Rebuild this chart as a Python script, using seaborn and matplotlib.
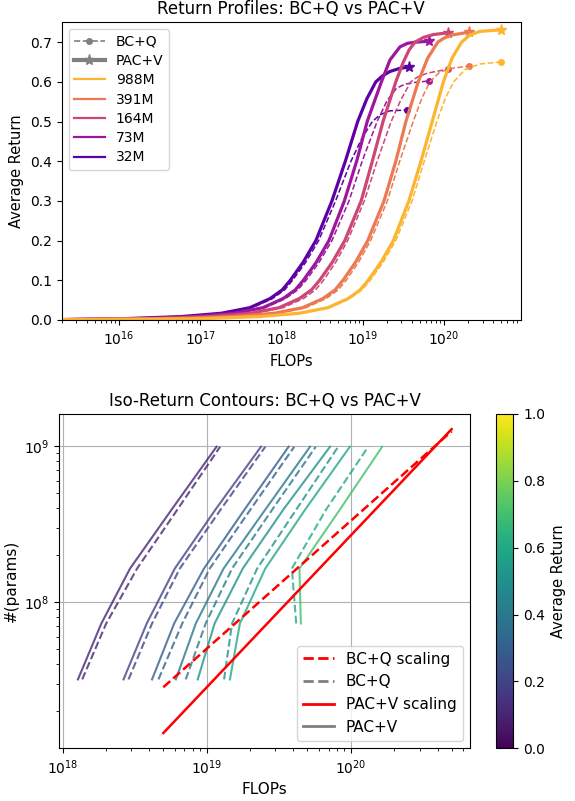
import numpy as np
import pandas as pd
import matplotlib
matplotlib.use("Agg")
import matplotlib.pyplot as plt
from matplotlib.lines import Line2D
import seaborn as sns

# ---------------- data: top panel (log10 FLOPs, average return) ----------------
sizes = ["32M", "73M", "164M", "391M", "988M"]
tail_ret = [0.001, 0.003, 0.0085, 0.017, 0.031, 0.054, 0.076]

pacv_32m_logf = [15.3, 16.01, 16.76, 17.26, 17.61, 17.86, 18.01, 18.108, 18.265, 18.423, 18.621, 18.786, 18.938, 19.05, 19.161, 19.25, 19.335, 19.458, 19.573]
pacv_32m_ret = tail_ret + [0.1, 0.145, 0.2, 0.3, 0.4, 0.5, 0.557, 0.6, 0.616, 0.626, 0.634, 0.637]
bcq_32m_logf = [15.3, 16.04, 16.79, 17.29, 17.64, 17.89, 18.04, 18.136, 18.297, 18.457, 18.666, 18.855, 18.99, 19.119, 19.212, 19.335, 19.55]
bcq_32m_ret = tail_ret + [0.1, 0.145, 0.2, 0.3, 0.4, 0.458, 0.5, 0.517, 0.527, 0.529]

pacv_73m_logf = [15.3, 16.17, 16.92, 17.42, 17.77, 18.02, 18.17, 18.269, 18.427, 18.584, 18.774, 18.925, 19.055, 19.23, 19.335, 19.458, 19.55, 19.653, 19.81]
pacv_73m_ret = tail_ret + [0.1, 0.145, 0.2, 0.3, 0.4, 0.5, 0.6, 0.655, 0.688, 0.697, 0.700, 0.702]
bcq_73m_logf = [15.3, 16.2, 16.95, 17.45, 17.8, 18.05, 18.2, 18.303, 18.462, 18.621, 18.831, 18.993, 19.177, 19.3, 19.417, 19.52, 19.621, 19.81]
bcq_73m_ret = tail_ret + [0.1, 0.145, 0.2, 0.3, 0.4, 0.5, 0.553, 0.584, 0.594, 0.598, 0.602]

pacv_164m_logf = [15.3, 16.37, 17.12, 17.62, 17.97, 18.22, 18.37, 18.469, 18.624, 18.779, 18.981, 19.118, 19.25, 19.407, 19.5, 19.57, 19.643, 19.75, 19.87, 20.05]
pacv_164m_ret = tail_ret + [0.1, 0.145, 0.2, 0.3, 0.4, 0.5, 0.6, 0.65, 0.68, 0.7, 0.712, 0.719, 0.7235]
bcq_164m_logf = [15.3, 16.42, 17.17, 17.67, 18.02, 18.27, 18.42, 18.517, 18.666, 18.814, 19.02, 19.177, 19.35, 19.47, 19.591, 19.68, 19.8, 20.05]
bcq_164m_ret = tail_ret + [0.1, 0.145, 0.2, 0.3, 0.4, 0.5, 0.555, 0.6, 0.613, 0.622, 0.632]

pacv_391m_logf = [15.3, 16.66, 17.41, 17.91, 18.26, 18.51, 18.66, 18.757, 18.91, 19.062, 19.262, 19.407, 19.531, 19.683, 19.8, 19.924, 20.0, 20.10, 20.31]
pacv_391m_ret = tail_ret + [0.1, 0.145, 0.2, 0.3, 0.4, 0.5, 0.6, 0.66, 0.7, 0.71, 0.718, 0.725]
bcq_391m_logf = [15.3, 16.7, 17.45, 17.95, 18.3, 18.55, 18.7, 18.797, 18.947, 19.097, 19.303, 19.455, 19.621, 19.73, 19.828, 19.95, 20.10, 20.31]
bcq_391m_ret = tail_ret + [0.1, 0.145, 0.2, 0.3, 0.4, 0.5, 0.56, 0.6, 0.625, 0.634, 0.640]

pacv_988m_logf = [15.3, 16.97, 17.72, 18.22, 18.57, 18.82, 18.97, 19.067, 19.222, 19.377, 19.568, 19.717, 19.855, 19.993, 20.1, 20.217, 20.32, 20.443, 20.70]
pacv_988m_ret = tail_ret + [0.1, 0.145, 0.2, 0.3, 0.4, 0.5, 0.6, 0.66, 0.7, 0.718, 0.727, 0.731]
bcq_988m_logf = [15.3, 16.99, 17.74, 18.24, 18.59, 18.84, 18.99, 19.092, 19.25, 19.407, 19.607, 19.757, 19.912, 20.02, 20.119, 20.26, 20.443, 20.70]
bcq_988m_ret = tail_ret + [0.1, 0.145, 0.2, 0.3, 0.4, 0.5, 0.56, 0.6, 0.631, 0.645, 0.650]

# ---------------- data: bottom panel (iso-return contours) ----------------
param_counts = [32e6, 73e6, 164e6, 391e6, 988e6]
return_levels = [0.1, 0.2, 0.3, 0.4, 0.5, 0.6, 0.7]
nan = float("nan")
pacv_iso_flops_01 = [1.28e18, 1.86e18, 2.94e18, 5.71e18, 1.17e19]
pacv_iso_flops_02 = [2.65e18, 3.84e18, 6.01e18, 1.15e19, 2.38e19]
pacv_iso_flops_03 = [4.18e18, 5.95e18, 9.58e18, 1.83e19, 3.70e19]
pacv_iso_flops_04 = [6.11e18, 8.41e18, 1.31e19, 2.55e19, 5.21e19]
pacv_iso_flops_05 = [8.67e18, 1.135e19, 1.78e19, 3.40e19, 7.17e19]
pacv_iso_flops_06 = [1.45e19, 1.70e19, 2.55e19, 4.82e19, 9.84e19]
pacv_iso_flops_07 = [nan, 4.50e19, 4.40e19, 8.39e19, 1.65e20]
bcq_iso_flops_01 = [1.37e18, 2.01e18, 3.29e18, 6.26e18, 1.24e19]
bcq_iso_flops_02 = [2.87e18, 4.18e18, 6.51e18, 1.25e19, 2.55e19]
bcq_iso_flops_03 = [4.63e18, 6.77e18, 1.05e19, 2.01e19, 4.05e19]
bcq_iso_flops_04 = [7.16e18, 9.84e18, 1.50e19, 2.85e19, 5.71e19]
bcq_iso_flops_05 = [1.32e19, 1.50e19, 2.24e19, 4.18e19, 8.17e19]
bcq_iso_flops_06 = [nan, 4.18e19, 3.90e19, 6.73e19, 1.32e20]
bcq_iso_flops_07 = [nan, nan, nan, nan, nan]

scaling_flops = [5e18, 5e20]
bcq_scaling_params = [2.85e7, 1.24e9]
pacv_scaling_params = [1.45e7, 1.28e9]

# ---------------- figure ----------------
plt.rcParams["xtick.labelsize"] = 10
plt.rcParams["ytick.labelsize"] = 10
fig = plt.figure(figsize=(5.75, 8.01), dpi=100)
ax1 = fig.add_axes([0.1073, 0.6005, 0.7988, 0.3717])
ax2 = fig.add_axes([0.1031, 0.0658, 0.7148, 0.4174])
cax = fig.add_axes([0.8626, 0.0658, 0.0301, 0.4174])

palette = sns.color_palette("plasma", len(sizes))
pacv_curves = [(pacv_32m_logf, pacv_32m_ret), (pacv_73m_logf, pacv_73m_ret), (pacv_164m_logf, pacv_164m_ret),
               (pacv_391m_logf, pacv_391m_ret), (pacv_988m_logf, pacv_988m_ret)]
bcq_curves = [(bcq_32m_logf, bcq_32m_ret), (bcq_73m_logf, bcq_73m_ret), (bcq_164m_logf, bcq_164m_ret),
              (bcq_391m_logf, bcq_391m_ret), (bcq_988m_logf, bcq_988m_ret)]

for i, size in enumerate(sizes):
    col = palette[i]
    lf, r = bcq_curves[i]
    df = pd.DataFrame({"flops": 10 ** np.array(lf), "ret": r})
    sns.lineplot(data=df, x="flops", y="ret", ax=ax1, color=col, lw=1.1, ls="--",
                 sort=False, estimator=None, legend=False)
    ax1.plot(df["flops"].iloc[-1], df["ret"].iloc[-1], "o", color=col, ms=4)
for i, size in enumerate(sizes):
    col = palette[i]
    lf, r = pacv_curves[i]
    df = pd.DataFrame({"flops": 10 ** np.array(lf), "ret": r})
    sns.lineplot(data=df, x="flops", y="ret", ax=ax1, color=col, lw=2.3, ls="-",
                 sort=False, estimator=None, legend=False)
    ax1.plot(df["flops"].iloc[-1], df["ret"].iloc[-1], "*", color=col, ms=8)

ax1.set_xscale("log")
ax1.set_xlim(10 ** 15.295, 10 ** 20.948)
ax1.set_ylim(0, 0.75)
ax1.set_xlabel("FLOPs", fontsize=10.5)
ax1.set_ylabel("Average Return", fontsize=10.5)
ax1.set_title("Return Profiles: BC+Q vs PAC+V", fontsize=12)
handles = [Line2D([], [], color="gray", ls="--", lw=1.2, marker="o", ms=4),
           Line2D([], [], color="gray", ls="-", lw=3, marker="*", ms=8)]
labels = ["BC+Q", "PAC+V"]
for i in reversed(range(len(sizes))):
    handles.append(Line2D([], [], color=palette[i], lw=1.6))
    labels.append(sizes[i])
ax1.legend(handles, labels, loc="upper left", fontsize=10, labelspacing=0.38, handlelength=2.2)

# bottom panel
cmap = plt.get_cmap("viridis")
pacv_iso = [pacv_iso_flops_01, pacv_iso_flops_02, pacv_iso_flops_03, pacv_iso_flops_04,
            pacv_iso_flops_05, pacv_iso_flops_06, pacv_iso_flops_07]
bcq_iso = [bcq_iso_flops_01, bcq_iso_flops_02, bcq_iso_flops_03, bcq_iso_flops_04,
           bcq_iso_flops_05, bcq_iso_flops_06, bcq_iso_flops_07]
for lvl, pf, bf in zip(return_levels, pacv_iso, bcq_iso):
    col = cmap(lvl)
    dp = pd.DataFrame({"flops": pf, "params": param_counts}).dropna()
    db = pd.DataFrame({"flops": bf, "params": param_counts}).dropna()
    if len(dp):
        sns.lineplot(data=dp, x="flops", y="params", ax=ax2, color=col, alpha=0.8, lw=1.5,
                     sort=False, estimator=None, legend=False)
    if len(db):
        sns.lineplot(data=db, x="flops", y="params", ax=ax2, color=col, alpha=0.8, lw=1.5, ls="--",
                     sort=False, estimator=None, legend=False)

sns.lineplot(x=scaling_flops, y=bcq_scaling_params, ax=ax2, color="red", lw=1.8, ls="--",
             sort=False, estimator=None, legend=False)
sns.lineplot(x=scaling_flops, y=pacv_scaling_params, ax=ax2, color="red", lw=1.8, ls="-",
             sort=False, estimator=None, legend=False)
ax2.set_xscale("log")
ax2.set_yscale("log")
ax2.grid(True, which="major", color="#b0b0b0", lw=0.8)
ax2.set_xlabel("FLOPs", fontsize=11)
ax2.set_ylabel("#(params)", fontsize=11)
ax2.set_title("Iso-Return Contours: BC+Q vs PAC+V", fontsize=12)
h2 = [Line2D([], [], color="red", ls="--", lw=2),
      Line2D([], [], color="gray", ls="--", lw=2),
      Line2D([], [], color="red", ls="-", lw=2),
      Line2D([], [], color="gray", ls="-", lw=2)]
ax2.legend(h2, ["BC+Q scaling", "BC+Q", "PAC+V scaling", "PAC+V"], loc="lower right", fontsize=11)

sm = matplotlib.cm.ScalarMappable(cmap=cmap, norm=matplotlib.colors.Normalize(0, 1))
cb = fig.colorbar(sm, cax=cax)
cb.set_label("Average Return", fontsize=10.5)

fig.savefig("out.png", dpi=100)
